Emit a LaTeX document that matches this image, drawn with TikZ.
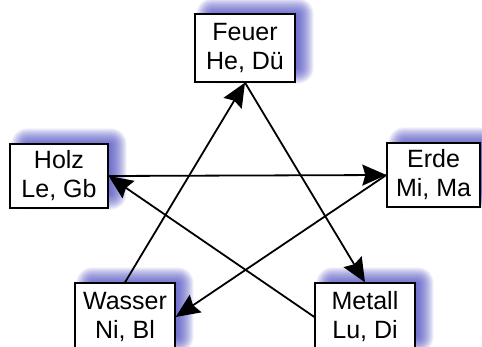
\documentclass[tikz,border=0pt]{standalone}
\usepackage{fontspec}
\setmainfont{Liberation Sans}
\usetikzlibrary{arrows.meta}
\pgfdeclarelayer{background}
\pgfsetlayers{background,main}
\definecolor{shadowblue}{RGB}{70,70,190}
\tikzset{
  elem/.style={draw=black, line width=1.3pt, fill=white, inner sep=0pt, align=center,
    font=\fontsize{25}{29}\selectfont},
  conn/.style={line width=1.8pt, -{Stealth[length=24pt,width=21pt,inset=3pt]}},
  shadlayer/.style={fill=shadowblue, opacity=0.08}
}
\newcommand\softshadow[1]{%
  \begin{pgfonlayer}{background}
  \foreach \k in {0,...,16}{%
    \pgfmathsetmacro\s{8-\k}
    \fill[shadlayer, rounded corners=\k pt]
      ([shift={(10+\s,-7-\s)}]#1.south west) rectangle ([shift={(10-\s,-7+\s)}]#1.north east);
  }
  \end{pgfonlayer}}
\begin{document}
\begin{tikzpicture}[x=1pt,y=-1pt]
\useasboundingbox (0,0) rectangle (482,347);
\clip (0,0) rectangle (482,347);
\node[elem, minimum width=100pt, minimum height=68pt] (feuer) at (245,48) {Feuer\\He, Dü};
\node[elem, minimum width=98pt, minimum height=64pt] (holz) at (59,176) {Holz\\Le, Gb};
\node[elem, minimum width=93pt, minimum height=64pt] (erde) at (433.5,175) {Erde\\Mi, Ma};
\node[elem, minimum width=100pt, minimum height=68pt] (wasser) at (125,317) {Wasser\\Ni, Bl};
\node[elem, minimum width=100pt, minimum height=68pt] (metall) at (365,317) {Metall\\Lu, Di};
\softshadow{feuer}
\softshadow{holz}
\softshadow{erde}
\softshadow{wasser}
\softshadow{metall}
\draw[conn] (feuer.south) -- (metall.north);
\draw[conn] (metall.west) -- (holz.east);
\draw[conn] (holz.east) -- (erde.west);
\draw[conn] (erde.west) -- (wasser.east);
\draw[conn] (wasser.north) -- (feuer.south);
\end{tikzpicture}
\end{document}
